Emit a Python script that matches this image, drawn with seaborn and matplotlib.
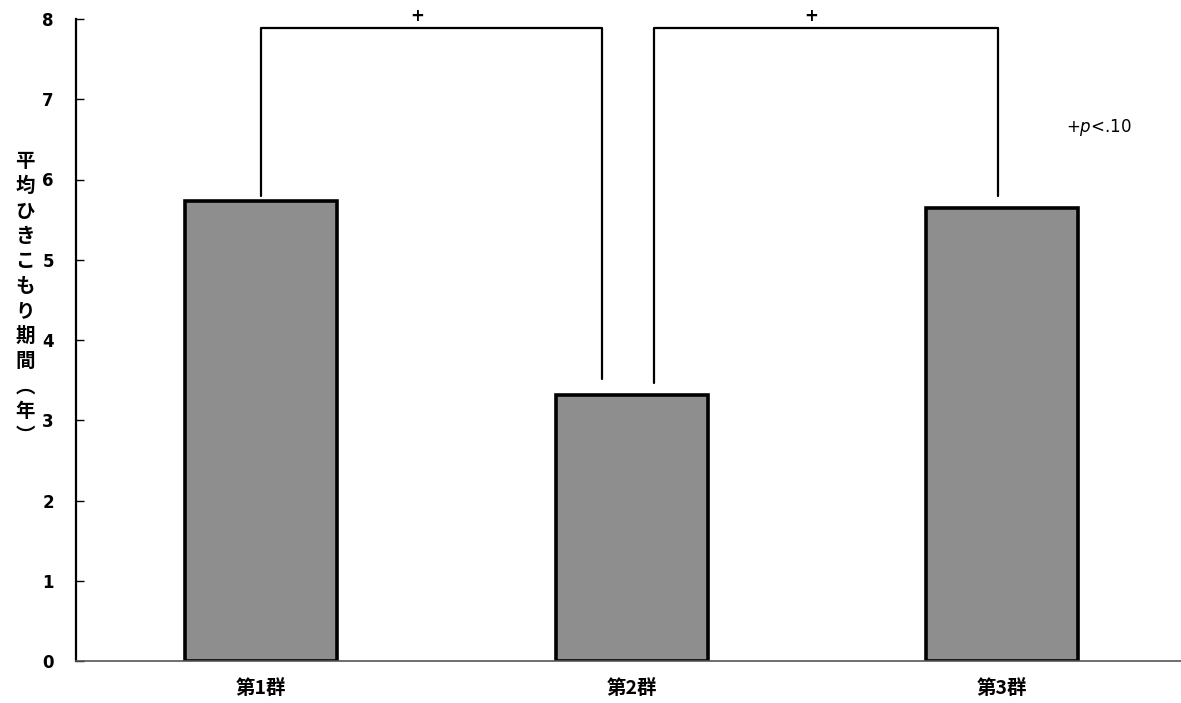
import matplotlib
matplotlib.use("Agg")
import matplotlib.pyplot as plt
import seaborn as sns
import pandas as pd

# data
groups = ["第1群", "第2群", "第3群"]
mean_years = [5.73, 3.31, 5.65]
y_ticks = [0, 1, 2, 3, 4, 5, 6, 7, 8]

# significance brackets: (left x, right x, left leg end, right leg end, label)
bracket_left = [0.0, 1.06]
bracket_right = [0.92, 1.99]
leg_left_end = [5.8, 3.47]
leg_right_end = [3.52, 5.8]
bracket_top = 7.89
bracket_labels = ["+", "+"]

sns.set_style("white")
plt.rcParams["font.family"] = ["Noto Sans CJK JP", "DejaVu Sans"]
plt.rcParams["text.color"] = "black"
plt.rcParams["xtick.color"] = "black"
plt.rcParams["ytick.color"] = "black"

df = pd.DataFrame({"group": groups, "years": mean_years})

fig = plt.figure(figsize=(11.81, 7.03), dpi=100)
ax = fig.add_axes([76 / 1181, 42 / 703, 1105 / 1181, 642 / 703])

sns.barplot(data=df, x="group", y="years", color="#8e8e8e", saturation=1,
            edgecolor="black", linewidth=2.6, width=0.41, ax=ax)

for l, r, le, re, lab in zip(bracket_left, bracket_right, leg_left_end,
                             leg_right_end, bracket_labels):
    ax.plot([l, l, r, r], [le, bracket_top, bracket_top, re],
            color="black", lw=1.6, clip_on=False)
    ax.text((l + r) / 2 - 0.04, bracket_top + 0.04, lab, ha="center", va="bottom",
            fontsize=12, fontweight="bold", family="DejaVu Sans", clip_on=False)

ax.text(2.26, 6.65, "+$p$<.10", ha="center", va="center", fontsize=12,
        family="DejaVu Sans")

ax.set_xlim(-0.5, 2.483)
ax.set_ylim(0, 8)
ax.set_yticks(y_ticks)
ax.set_yticklabels([str(t) for t in y_ticks], fontsize=12, fontweight="bold",
                   family="DejaVu Sans")
ax.set_xticks(range(len(groups)))
ax.set_xticklabels(groups, fontsize=14, fontweight="bold")
ax.tick_params(axis="y", direction="in", length=6, width=1, pad=16, left=True)
ax.tick_params(axis="x", length=0, pad=13)

ax.set_xlabel("")
ax.set_ylabel("")
for s in ["top", "right"]:
    ax.spines[s].set_visible(False)
ax.spines["left"].set_color("black")
ax.spines["left"].set_linewidth(1.6)
ax.spines["bottom"].set_color("#555555")
ax.spines["bottom"].set_linewidth(1.2)

# vertical y-axis label, one character per line
ylabel_chars = ["平", "均", "ひ", "き", "こ", "も", "り", "期", "間", "︵", "年", "︶"]
fig.text(25 / 1181, 1 - 299 / 703, "\n".join(ylabel_chars), ha="center",
         va="center", fontsize=14, fontweight="bold", linespacing=1.4)

fig.savefig("out.png", dpi=100)
